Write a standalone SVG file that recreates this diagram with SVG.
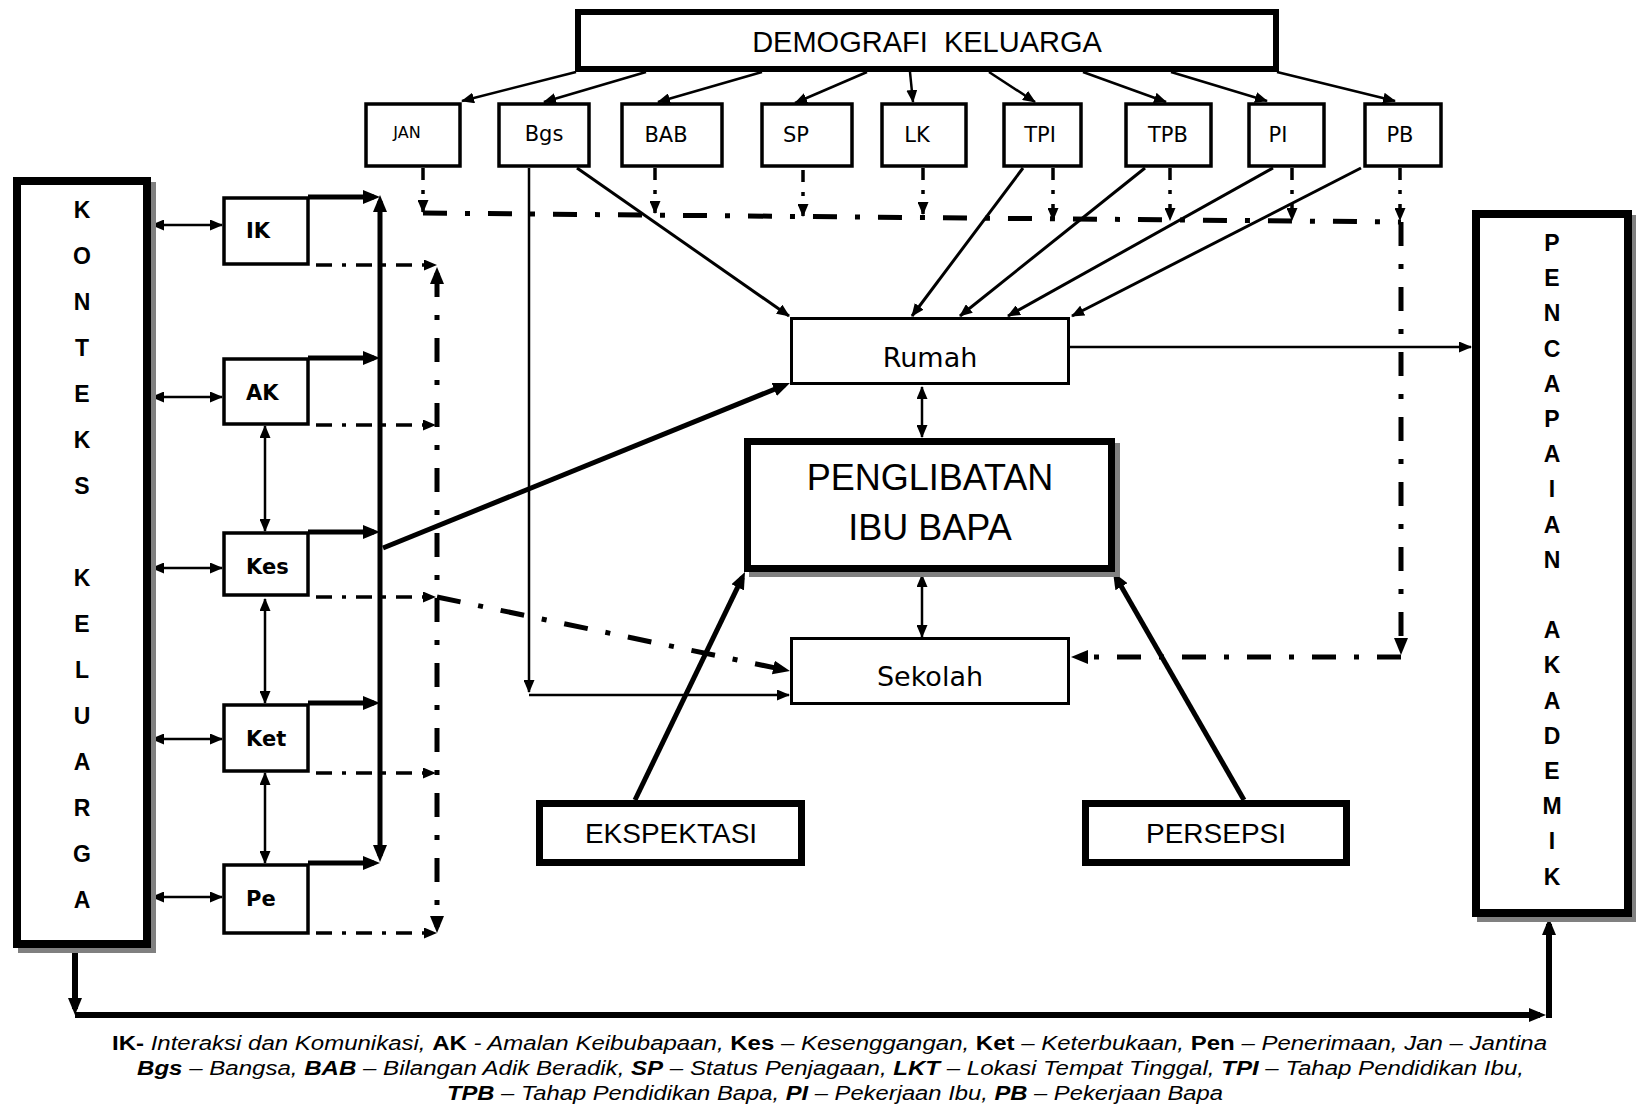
<svg xmlns="http://www.w3.org/2000/svg" width="1636" height="1115" viewBox="0 0 1636 1115">
<style>
.box{fill:#fff;stroke:#000}
.sh{fill:#808080}
.t{font-family:"Liberation Sans",Arial,sans-serif;fill:#000}
.h{font-family:"DejaVu Sans",sans-serif;fill:#000}
.v{font-family:"Liberation Sans",Arial,sans-serif;font-weight:bold;font-size:23px;text-anchor:middle;fill:#000}
.c{fill:none;stroke:#000}
.thin{stroke-width:2.5}
.med{stroke-width:3}
.m35{stroke-width:3.5}
.thk{stroke-width:5}
.xthk{stroke-width:6}
.dd{stroke-dasharray:24 18 5 18}
.dl{stroke-dasharray:16 10 4 10}
.dp{stroke-dasharray:12 10 4 10}
.lg{font-family:"Liberation Sans",Arial,sans-serif;font-size:20px;font-style:italic;fill:#000}
.b{font-weight:bold;font-style:normal}
.bi{font-weight:bold}
</style>
<defs>
<marker id="ms" viewBox="0 0 13 11" refX="12" refY="5.5" markerWidth="13" markerHeight="11" markerUnits="userSpaceOnUse" orient="auto-start-reverse"><path d="M0,0L13,5.5L0,11z"/></marker>
<marker id="mL" viewBox="0 0 17 14" refX="11" refY="7" markerWidth="17" markerHeight="14" markerUnits="userSpaceOnUse" orient="auto-start-reverse"><path d="M0,0L17,7L0,14z"/></marker>
</defs>
<rect width="1636" height="1115" fill="#fff"/>

<g id="connectors">
  <!-- DEMOGRAFI to small boxes -->
  <g class="c thin" marker-end="url(#ms)">
    <path d="M576,72L462,101"/>
    <path d="M646,72L544,102"/>
    <path d="M762,72L658,102"/>
    <path d="M867,72L795,103"/>
    <path d="M910,72L913,102"/>
    <path d="M989,72L1035,102"/>
    <path d="M1083,72L1166,102"/>
    <path d="M1171,72L1267,101"/>
    <path d="M1277,72L1395,101"/>
  </g>
  <!-- dashed drops -->
  <g class="c m35 dp" marker-end="url(#ms)">
    <path d="M423,168V212"/>
    <path d="M655,168V213"/>
    <path d="M803,170V216"/>
    <path d="M923,168V214"/>
    <path d="M1053,168V220"/>
    <path d="M1170,168V220"/>
    <path d="M1292,168V220"/>
    <path d="M1400,168V220"/>
  </g>
  <!-- thick dash-dot collector -->
  <path class="c thk dd" d="M423,213L1401,222"/>
  <path class="c thk dd" d="M1401,222V649" marker-end="url(#mL)"/>
  <path class="c thk dd" d="M1401,657H1077" marker-end="url(#mL)"/>
  <!-- Bgs -->
  <path class="c thin" d="M529,168V692" marker-end="url(#ms)"/>
  <path class="c thin" d="M529,695H789" marker-end="url(#ms)"/>
  <g class="c med" marker-end="url(#ms)">
    <path d="M577,168L789,316"/>
    <path d="M1023,168L912,316"/>
    <path d="M1145,168L960,316"/>
    <path d="M1273,168L1008,316"/>
    <path d="M1361,168L1072,316"/>
  </g>
  <!-- Rumah to PENCAPAIAN -->
  <path class="c thin" d="M1070,347H1471" marker-end="url(#ms)"/>
  <!-- double arrows centre -->
  <path class="c thin" d="M922,387V437" marker-start="url(#ms)" marker-end="url(#ms)"/>
  <path class="c thin" d="M922,575V637" marker-start="url(#ms)" marker-end="url(#ms)"/>
  <!-- EKSPEKTASI / PERSEPSI -->
  <path class="c thk" d="M635,800L742.4,577.4" marker-end="url(#mL)"/>
  <path class="c thk" d="M1244,800L1116,577.2" marker-end="url(#mL)"/>
  <!-- left cluster to Rumah / Sekolah -->
  <path class="c thk" d="M383,548L784.4,385.3" marker-end="url(#mL)"/>
  <path class="c thk dd" d="M437,597L784.1,669.8" marker-end="url(#mL)"/>
  <!-- KONTEKS to small boxes -->
  <g class="c thin" marker-start="url(#ms)" marker-end="url(#ms)">
    <path d="M152,225H222"/>
    <path d="M152,397H222"/>
    <path d="M152,568H222"/>
    <path d="M152,739H222"/>
    <path d="M152,897H222"/>
    <path d="M265,426V531"/>
    <path d="M265,599V703"/>
    <path d="M265,773V863"/>
  </g>
  <!-- thick solid arrows to x=380 -->
  <g class="c thk" marker-end="url(#mL)">
    <path d="M308,197H374"/>
    <path d="M308,358H374"/>
    <path d="M308,532H374"/>
    <path d="M308,703H374"/>
    <path d="M308,863H374"/>
  </g>
  <path class="c thk" d="M380,201V856" marker-start="url(#mL)" marker-end="url(#mL)"/>
  <!-- dash-dot arrows to x=437 -->
  <g class="c m35 dl" marker-end="url(#ms)">
    <path d="M316,265H436"/>
    <path d="M316,425H435"/>
    <path d="M316,597H435"/>
    <path d="M316,773H435"/>
    <path d="M316,933H436"/>
  </g>
  <path class="c thk dd" d="M437,273V927" marker-start="url(#mL)" marker-end="url(#mL)"/>
  <!-- bottom loop -->
  <path class="c xthk" d="M75,948V1009" marker-end="url(#mL)"/>
  <path class="c xthk" d="M75,1015H1540" marker-end="url(#mL)"/>
  <path class="c xthk" d="M1549,1018V924" marker-end="url(#mL)"/>
</g>

<g id="demografi">
  <rect class="box" x="578" y="12" width="698" height="57" stroke-width="6"/>
  <text class="t" x="927" y="52" font-size="29" text-anchor="middle" xml:space="preserve">DEMOGRAFI  KELUARGA</text>
</g>
<g id="jan"><rect class="box" x="366" y="104" width="94" height="62" stroke-width="3.5"/><text class="h" x="407" y="138" font-size="16" text-anchor="middle">JAN</text></g>
<g id="bgs"><rect class="box" x="499" y="104" width="90" height="62" stroke-width="3.5"/><text class="h" x="544" y="141" font-size="21" text-anchor="middle">Bgs</text></g>
<g id="bab"><rect class="box" x="622" y="104" width="100" height="62" stroke-width="3.5"/><text class="h" x="666" y="142" font-size="21" text-anchor="middle">BAB</text></g>
<g id="sp"><rect class="box" x="762" y="104" width="90" height="62" stroke-width="3.5"/><text class="h" x="796" y="142" font-size="21" text-anchor="middle">SP</text></g>
<g id="lk"><rect class="box" x="882" y="104" width="84" height="62" stroke-width="3.5"/><text class="h" x="917" y="142" font-size="21" text-anchor="middle">LK</text></g>
<g id="tpi"><rect class="box" x="1004" y="104" width="77" height="62" stroke-width="3.5"/><text class="h" x="1040" y="142" font-size="21" text-anchor="middle">TPI</text></g>
<g id="tpb"><rect class="box" x="1126" y="104" width="85" height="62" stroke-width="3.5"/><text class="h" x="1168" y="142" font-size="21" text-anchor="middle">TPB</text></g>
<g id="pi"><rect class="box" x="1249" y="104" width="75" height="62" stroke-width="3.5"/><text class="h" x="1278" y="142" font-size="21" text-anchor="middle">PI</text></g>
<g id="pb"><rect class="box" x="1365" y="104" width="76" height="62" stroke-width="3.5"/><text class="h" x="1400" y="142" font-size="21" text-anchor="middle">PB</text></g>

<g id="konteks">
  <rect class="sh" x="18" y="182" width="138" height="771"/>
  <rect class="box" x="17" y="181" width="130" height="763" stroke-width="8"/>
  <text class="v" x="82" y="218">K</text><text class="v" x="82" y="264">O</text><text class="v" x="82" y="310">N</text><text class="v" x="82" y="356">T</text><text class="v" x="82" y="402">E</text><text class="v" x="82" y="448">K</text><text class="v" x="82" y="494">S</text>
  <text class="v" x="82" y="586">K</text><text class="v" x="82" y="632">E</text><text class="v" x="82" y="678">L</text><text class="v" x="82" y="724">U</text><text class="v" x="82" y="770">A</text><text class="v" x="82" y="816">R</text><text class="v" x="82" y="862">G</text><text class="v" x="82" y="908">A</text>
</g>

<g id="pencapaian">
  <rect class="sh" x="1477" y="215" width="159" height="707"/>
  <rect class="box" x="1476" y="214" width="152" height="699" stroke-width="8"/>
  <text class="v" x="1552" y="251">P</text><text class="v" x="1552" y="286">E</text><text class="v" x="1552" y="321">N</text><text class="v" x="1552" y="357">C</text><text class="v" x="1552" y="392">A</text><text class="v" x="1552" y="427">P</text><text class="v" x="1552" y="462">A</text><text class="v" x="1552" y="497">I</text><text class="v" x="1552" y="533">A</text><text class="v" x="1552" y="568">N</text>
  <text class="v" x="1552" y="638">A</text><text class="v" x="1552" y="673">K</text><text class="v" x="1552" y="709">A</text><text class="v" x="1552" y="744">D</text><text class="v" x="1552" y="779">E</text><text class="v" x="1552" y="814">M</text><text class="v" x="1552" y="849">I</text><text class="v" x="1552" y="885">K</text>
</g>

<g id="ik"><rect class="box" x="224" y="198" width="84" height="66" stroke-width="3.5"/><text class="h" x="246" y="238" font-size="21" font-weight="bold">IK</text></g>
<g id="ak"><rect class="box" x="224" y="359" width="84" height="65" stroke-width="3.5"/><text class="h" x="246" y="400" font-size="21" font-weight="bold">AK</text></g>
<g id="kes"><rect class="box" x="224" y="533" width="84" height="62" stroke-width="3.5"/><text class="h" x="246" y="574" font-size="21" font-weight="bold">Kes</text></g>
<g id="ket"><rect class="box" x="224" y="705" width="84" height="66" stroke-width="3.5"/><text class="h" x="246" y="746" font-size="21" font-weight="bold">Ket</text></g>
<g id="pe"><rect class="box" x="224" y="865" width="84" height="68" stroke-width="3.5"/><text class="h" x="246" y="906" font-size="21" font-weight="bold">Pe</text></g>

<g id="rumah"><rect class="box" x="791.5" y="318.5" width="277" height="65" stroke-width="3"/><text class="h" x="930" y="367" font-size="27" text-anchor="middle">Rumah</text></g>
<g id="sekolah"><rect class="box" x="791.5" y="638.5" width="277" height="65" stroke-width="3"/><text class="h" x="930" y="686" font-size="27" text-anchor="middle">Sekolah</text></g>

<g id="penglibatan">
  <rect class="sh" x="749" y="443" width="371" height="134"/>
  <rect class="box" x="747.5" y="441.5" width="364" height="127" stroke-width="7"/>
  <text class="t" x="930" y="490" font-size="36" text-anchor="middle">PENGLIBATAN</text>
  <text class="t" x="930" y="540" font-size="36" text-anchor="middle">IBU BAPA</text>
</g>
<g id="ekspektasi"><rect class="box" x="539.5" y="803.5" width="262" height="59" stroke-width="7"/><text class="t" x="671" y="843" font-size="28" text-anchor="middle">EKSPEKTASI</text></g>
<g id="persepsi"><rect class="box" x="1085.5" y="803.5" width="261" height="59" stroke-width="7"/><text class="t" x="1216" y="843" font-size="28" text-anchor="middle">PERSEPSI</text></g>

<g id="legend">
  <text class="lg" x="112" y="1050" textLength="1435" lengthAdjust="spacingAndGlyphs"><tspan class="b">IK-</tspan> Interaksi dan Komunikasi, <tspan class="b">AK</tspan> - Amalan Keibubapaan, <tspan class="b">Kes</tspan> – Kesenggangan, <tspan class="b">Ket</tspan> – Keterbukaan, <tspan class="b">Pen</tspan> – Penerimaan, Jan – Jantina</text>
  <text class="lg" x="137" y="1075" textLength="1387" lengthAdjust="spacingAndGlyphs"><tspan class="bi">Bgs</tspan> – Bangsa, <tspan class="bi">BAB</tspan> – Bilangan Adik Beradik, <tspan class="bi">SP</tspan> – Status Penjagaan, <tspan class="bi">LKT</tspan> – Lokasi Tempat Tinggal, <tspan class="bi">TPI</tspan> – Tahap Pendidikan Ibu,</text>
  <text class="lg" x="447" y="1100" textLength="776" lengthAdjust="spacingAndGlyphs"><tspan class="bi">TPB</tspan> – Tahap Pendidikan Bapa, <tspan class="bi">PI</tspan> – Pekerjaan Ibu, <tspan class="bi">PB</tspan> – Pekerjaan Bapa</text>
</g>
</svg>
